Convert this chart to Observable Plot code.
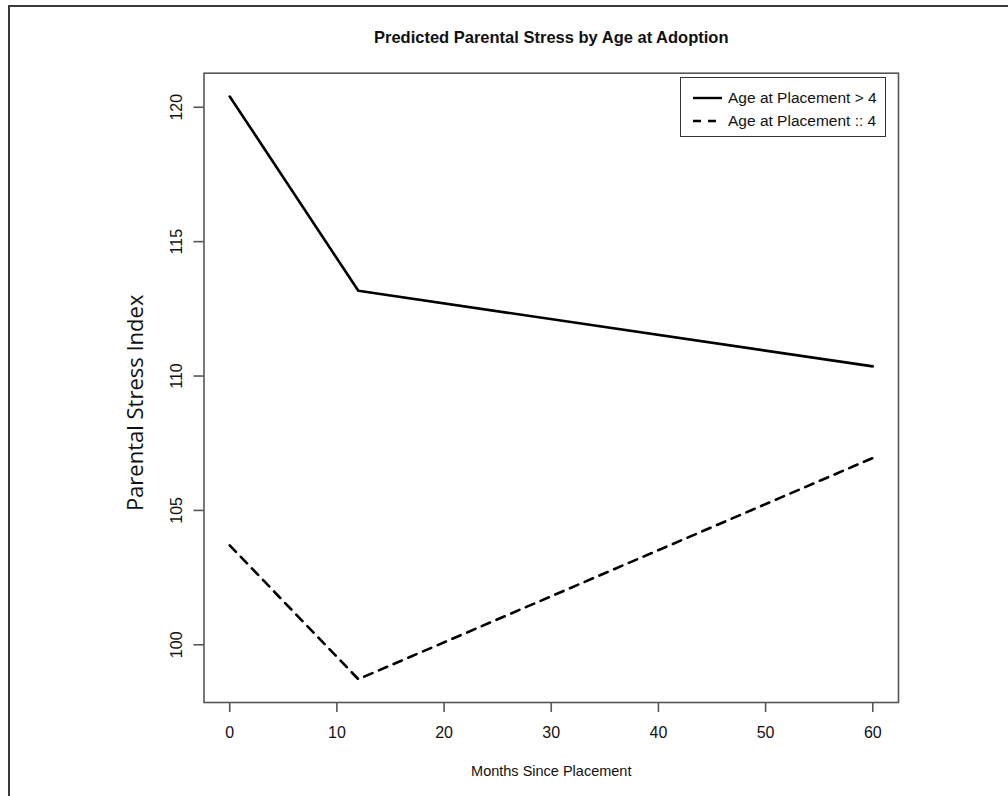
<!DOCTYPE html>
<html>
<head>
<meta charset="utf-8">
<script src="https://cdn.jsdelivr.net/npm/d3@7"></script>
<script src="https://cdn.jsdelivr.net/npm/@observablehq/plot@0.6"></script>
<style>
  html, body { margin: 0; padding: 0; background: #fff; }
  #wrap { position: relative; width: 1008px; height: 796px; overflow: hidden; font-family: "Liberation Sans", Arial, sans-serif; }
  #border { position: absolute; left: 8px; top: 5px; width: 1100px; height: 900px; border: 2px solid #3a3a3a; box-sizing: border-box; pointer-events: none; }
  #legend { position: absolute; left: 680px; top: 77px; width: 206px; height: 60px; border: 1.3px solid #333; box-sizing: border-box; background: #fff; font-size: 15.5px; color: #111; }
  .row { position: absolute; left: 12px; display: flex; align-items: center; }
  .row svg { margin-right: 5px; }
</style>
</head>
<body>
<div id="wrap">
  <div id="chart"></div>
  <div id="border"></div>
  <div id="legend"></div>
</div>
<script>
const title = "Predicted Parental Stress by Age at Adoption";
const xLabel = "Months Since Placement";
const yLabel = "Parental Stress Index";
const seriesNames = ["Age at Placement > 4", "Age at Placement :: 4"];
const months = [0, 12, 60];
const olderValues = [120.4, 113.17, 110.36];
const youngerValues = [103.7, 98.72, 106.95];
const xTicks = [0, 10, 20, 30, 40, 50, 60];
const yTicks = [100, 105, 110, 115, 120];
const dashes = [null, "9,7"];

const rows = [];
months.forEach((m, i) => rows.push({series: seriesNames[0], month: m, value: olderValues[i]}));
months.forEach((m, i) => rows.push({series: seriesNames[1], month: m, value: youngerValues[i]}));

const allVals = olderValues.concat(youngerValues);
const yMin = d3.min(allVals), yMax = d3.max(allVals);
const yPad = (yMax - yMin) * 0.04;
const xMin = d3.min(months), xMax = d3.max(months);
const xPad = (xMax - xMin) * 0.04;

const W = 1008, H = 796, mL = 203.5, mR = 110, mT = 72.7, mB = 94;
const xLo = xMin - xPad, xHi = xMax + xPad;
const tickLen = 10 * (xHi - xLo) / (W - mL - mR); // 10px expressed in x units

const chart = Plot.plot({
  width: W,
  height: H,
  marginLeft: mL,
  marginRight: mR,
  marginTop: mT,
  marginBottom: mB,
  style: {fontFamily: "Liberation Sans, Arial, sans-serif", fontSize: "16px", color: "#444", background: "transparent"},
  x: {domain: [xLo, xHi]},
  y: {domain: [yMin - yPad, yMax + yPad], axis: null},
  marks: [
    Plot.ruleY(yTicks, {y: d => d, x1: xLo - tickLen, x2: xLo, stroke: "#555", strokeWidth: 1.6}),
    Plot.frame({stroke: "#555", strokeWidth: 1.6}),
    Plot.axisX({ticks: xTicks, tickSize: 10, tickPadding: 14, stroke: "#555", strokeWidth: 1.6, fontSize: 16, fill: "#111", label: null}),
    Plot.text(yTicks, {x: xLo, y: d => d, text: d => String(d), dx: -27, rotate: -90, textAnchor: "middle", fontSize: 16, fill: "#111"}),
    Plot.line(rows.filter(d => d.series === seriesNames[0]), {x: "month", y: "value", stroke: "#000", strokeWidth: 2.6}),
    Plot.line(rows.filter(d => d.series === seriesNames[1]), {x: "month", y: "value", stroke: "#000", strokeWidth: 2.6, strokeDasharray: dashes[1]}),
    Plot.text([title], {frameAnchor: "top", dy: -42, text: d => d, fontWeight: "bold", fontSize: 16.5, fill: "#111"}),
    Plot.text([xLabel], {frameAnchor: "bottom", dy: 73, text: d => d, fontSize: 14.5, fill: "#111"}),
    Plot.text([yLabel], {frameAnchor: "left", dx: -68, dy: 15, rotate: -90, textAnchor: "middle", text: d => d, fontSize: 22, fontFamily: "Open Sans, sans-serif", fill: "#111"})
  ]
});
document.getElementById("chart").appendChild(chart);

const legend = document.getElementById("legend");
seriesNames.forEach((name, i) => {
  const row = document.createElement("div");
  row.className = "row";
  row.style.top = (i === 0 ? 11 : 34) + "px";
  row.innerHTML = `<svg width="30" height="10"><line x1="0" x2="29" y1="5" y2="5" stroke="#000" stroke-width="2.4" ${dashes[i] ? `stroke-dasharray="8,7"` : ""}/></svg><span>${name}</span>`;
  legend.appendChild(row);
});
</script>
</body>
</html>
